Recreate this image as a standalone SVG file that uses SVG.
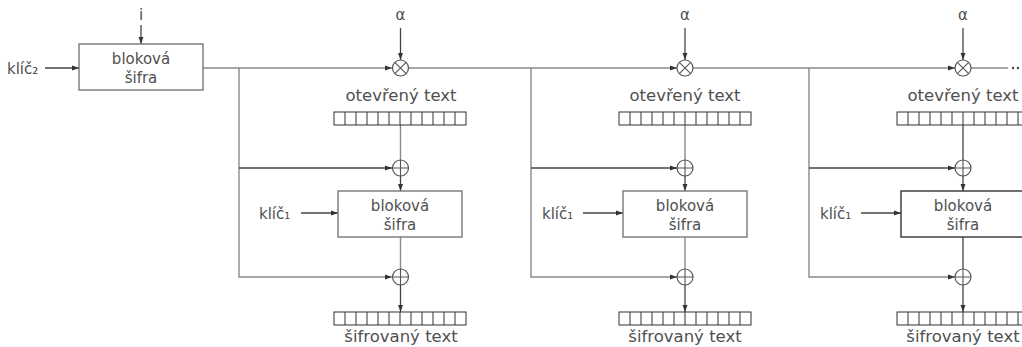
<svg xmlns="http://www.w3.org/2000/svg" width="1022" height="347" viewBox="0 0 1022 347">
<style>
.ln{stroke:#8a8a8a;stroke-width:1.4;fill:none}
.dk{stroke:#444;stroke-width:1.3;fill:none}
.box{fill:#fff;stroke:#777;stroke-width:1.4}
.reg{fill:#fff;stroke:#333;stroke-width:1}
.op{fill:#fff;stroke:#555;stroke-width:1.2}
text{font-family:"DejaVu Sans",sans-serif;fill:#505050;font-size:15px}
.c{text-anchor:middle}
.big{font-size:16.5px}
.key{font-size:15px}
</style>
<defs>
<marker id="ah" viewBox="0 0 10 10" refX="10" refY="5" markerWidth="7" markerHeight="7" markerUnits="userSpaceOnUse" orient="auto">
<path d="M0,1.5 L10,5 L0,8.5 z" fill="#333"/>
</marker>
<g id="regcells">
<rect x="0" y="0" width="132" height="13" class="reg"/>
<path d="M11,0v13M22,0v13M33,0v13M44,0v13M55,0v13M66,0v13M77,0v13M88,0v13M99,0v13M110,0v13M121,0v13" stroke="#333" stroke-width="1"/>
</g>
</defs>

<g id="connectors">
<line x1="45" y1="68" x2="79" y2="68" class="dk" marker-end="url(#ah)"/>
<line x1="141" y1="25" x2="141" y2="44" class="dk" marker-end="url(#ah)"/>
<line x1="203" y1="68" x2="392" y2="68" class="ln" marker-end="url(#ah)"/>
<line x1="409" y1="68" x2="677" y2="68" class="ln" marker-end="url(#ah)"/>
<line x1="693" y1="68" x2="955" y2="68" class="ln" marker-end="url(#ah)"/>
<line x1="971" y1="68" x2="1008" y2="68" class="ln"/>
<line x1="400.5" y1="28" x2="400.5" y2="60" class="dk" marker-end="url(#ah)"/>
<line x1="685" y1="28" x2="685" y2="60" class="dk" marker-end="url(#ah)"/>
<line x1="963" y1="28" x2="963" y2="60" class="dk" marker-end="url(#ah)"/>

<polyline points="239,68 239,277 392,277" class="ln" marker-end="url(#ah)"/>
<line x1="239" y1="168" x2="392" y2="168" class="dk" marker-end="url(#ah)"/>
<line x1="400.5" y1="125" x2="400.5" y2="160" class="ln"/>
<line x1="400.5" y1="176" x2="400.5" y2="191" class="dk" marker-end="url(#ah)"/>
<line x1="301" y1="213" x2="338" y2="213" class="dk" marker-end="url(#ah)"/>
<line x1="400.5" y1="237" x2="400.5" y2="269" class="ln"/>
<line x1="400.5" y1="285" x2="400.5" y2="312" class="dk" marker-end="url(#ah)"/>

<polyline points="531,68 531,277 677,277" class="ln" marker-end="url(#ah)"/>
<line x1="531" y1="168" x2="677" y2="168" class="dk" marker-end="url(#ah)"/>
<line x1="685" y1="125" x2="685" y2="160" class="ln"/>
<line x1="685" y1="176" x2="685" y2="191" class="dk" marker-end="url(#ah)"/>
<line x1="583" y1="213" x2="623" y2="213" class="dk" marker-end="url(#ah)"/>
<line x1="685" y1="237" x2="685" y2="269" class="ln"/>
<line x1="685" y1="285" x2="685" y2="312" class="dk" marker-end="url(#ah)"/>

<polyline points="809,68 809,277 955,277" class="ln" marker-end="url(#ah)"/>
<line x1="809" y1="168" x2="955" y2="168" class="dk" marker-end="url(#ah)"/>
<line x1="963" y1="125" x2="963" y2="160" class="dk"/>
<line x1="963" y1="176" x2="963" y2="191" class="dk" marker-end="url(#ah)"/>
<line x1="861" y1="213" x2="901" y2="213" class="dk" marker-end="url(#ah)"/>
<line x1="963" y1="237" x2="963" y2="269" class="dk"/>
<line x1="963" y1="285" x2="963" y2="312" class="dk" marker-end="url(#ah)"/>
</g>

<g id="dots">
<circle cx="1013" cy="68" r="1.2" fill="#444"/>
<circle cx="1018" cy="68" r="1.2" fill="#444"/>
</g>

<g id="input">
<text x="7" y="74" class="key">klíč₂</text>
<text x="141" y="20" class="c" font-size="13">i</text>
</g>

<g id="outer-cipher">
<rect x="79" y="44" width="124" height="46" class="box"/>
<text x="141" y="64" class="c">bloková</text>
<text x="141" y="83" class="c">šifra</text>
</g>

<g id="mul1">
<circle cx="400.5" cy="68" r="8" class="op"/>
<path d="M394.8,62.3 L406.2,73.7 M406.2,62.3 L394.8,73.7" stroke="#555" stroke-width="1.1"/>
<text x="400.5" y="20" class="c" font-size="13">α</text>
</g>
<g id="plain1">
<text x="401" y="101" class="c big">otevřený text</text>
<use href="#regcells" x="334" y="112"/>
</g>
<g id="xorA1">
<circle cx="400.5" cy="168" r="8" class="op"/>
<path d="M392.5,168 H408.5 M400.5,160 V176" stroke="#555" stroke-width="1.1"/>
</g>
<g id="cipher1">
<rect x="338" y="191" width="124" height="46" class="box"/>
<text x="400" y="211" class="c">bloková</text>
<text x="400" y="230" class="c">šifra</text>
<text x="259" y="219" class="key">klíč₁</text>
</g>
<g id="xorB1">
<circle cx="400.5" cy="277" r="8" class="op"/>
<path d="M392.5,277 H408.5 M400.5,269 V285" stroke="#555" stroke-width="1.1"/>
</g>
<g id="ct1">
<use href="#regcells" x="334" y="312"/>
<text x="401" y="342" class="c big">šifrovaný text</text>
</g>

<g id="mul2">
<circle cx="685" cy="68" r="8" class="op"/>
<path d="M679.3,62.3 L690.7,73.7 M690.7,62.3 L679.3,73.7" stroke="#555" stroke-width="1.1"/>
<text x="685" y="20" class="c" font-size="13">α</text>
</g>
<g id="plain2">
<text x="685" y="101" class="c big">otevřený text</text>
<use href="#regcells" x="619" y="112"/>
</g>
<g id="xorA2">
<circle cx="685" cy="168" r="8" class="op"/>
<path d="M677,168 H693 M685,160 V176" stroke="#555" stroke-width="1.1"/>
</g>
<g id="cipher2">
<rect x="623" y="191" width="124" height="46" class="box"/>
<text x="685" y="211" class="c">bloková</text>
<text x="685" y="230" class="c">šifra</text>
<text x="542" y="219" class="key">klíč₁</text>
</g>
<g id="xorB2">
<circle cx="685" cy="277" r="8" class="op"/>
<path d="M677,277 H693 M685,269 V285" stroke="#555" stroke-width="1.1"/>
</g>
<g id="ct2">
<use href="#regcells" x="619" y="312"/>
<text x="685" y="342" class="c big">šifrovaný text</text>
</g>

<g id="mul3">
<circle cx="963" cy="68" r="8" class="op"/>
<path d="M957.3,62.3 L968.7,73.7 M968.7,62.3 L957.3,73.7" stroke="#555" stroke-width="1.1"/>
<text x="963" y="20" class="c" font-size="13">α</text>
</g>
<g id="plain3">
<text x="963" y="101" class="c big">otevřený text</text>
<use href="#regcells" x="897" y="112"/>
</g>
<g id="xorA3">
<circle cx="963" cy="168" r="8" class="op"/>
<path d="M955,168 H971 M963,160 V176" stroke="#555" stroke-width="1.1"/>
</g>
<g id="cipher3">
<rect x="901" y="191" width="124" height="46" class="box" style="stroke:#333"/>
<text x="963" y="211" class="c">bloková</text>
<text x="963" y="230" class="c">šifra</text>
<text x="820" y="219" class="key">klíč₁</text>
</g>
<g id="xorB3">
<circle cx="963" cy="277" r="8" class="op"/>
<path d="M955,277 H971 M963,269 V285" stroke="#555" stroke-width="1.1"/>
</g>
<g id="ct3">
<use href="#regcells" x="897" y="312"/>
<text x="963" y="342" class="c big">šifrovaný text</text>
</g>
</svg>
